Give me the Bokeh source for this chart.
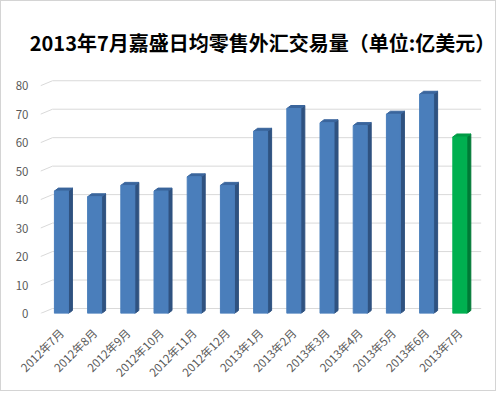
import numpy as np
from bokeh.plotting import figure
from bokeh.models import FixedTicker, Range1d
from bokeh.embed import file_html
from bokeh.resources import INLINE

title_text = "2013年7月嘉盛日均零售外汇交易量（单位:亿美元）"
months = ["2012年7月", "2012年8月", "2012年9月", "2012年10月", "2012年11月", "2012年12月",
          "2013年1月", "2013年2月", "2013年3月", "2013年4月", "2013年5月", "2013年6月", "2013年7月"]
volumes = [43, 41, 45, 43, 48, 45, 64, 72, 67, 66, 70, 77, 62]
y_ticks = [0, 10, 20, 30, 40, 50, 60, 70, 80]

FONT = "Noto Sans CJK SC"
ppu_x = 33.2        # px per category
ppu_y = 2.85        # px per unit
x0, x1 = -0.63, -0.63 + 444 / ppu_x

p = figure(width=496, height=391, output_backend="svg", toolbar_location=None,
           x_range=Range1d(x0, x1), y_range=Range1d(0, 85),
           min_border_left=39, min_border_right=13, min_border_top=70, min_border_bottom=79)
p.styles = {"border": "1px solid #d4d4d4"}
p.outline_line_color = None
p.background_fill_color = "white"
p.border_fill_color = "white"
p.xgrid.visible = False
p.ygrid.visible = False

p.title.text = title_text
p.title.text_font = FONT
p.title.text_font_style = "bold"
p.title.text_font_size = "20px"
p.title.text_color = "black"
p.title.align = "center"
p.title.offset = -11
p.title.standoff = 30

# 3D back-wall gridlines
gdx = 12 / ppu_x
gdy = 5 / ppu_y
gy = np.array(y_ticks, dtype=float)
p.segment(x0=[x0] * len(gy), y0=gy, x1=[x0 + gdx] * len(gy), y1=gy + gdy,
          line_color="#d9d9d9", line_width=1)
p.segment(x0=[x0 + gdx] * len(gy), y0=gy + gdy, x1=[x1 - 0.1] * len(gy), y1=gy + gdy,
          line_color="#d9d9d9", line_width=1)

# bars
xs = np.arange(len(volumes), dtype=float)
v = np.array(volumes, dtype=float)
hw = 7 / ppu_x
dx = 4 / ppu_x
dy = 3 / ppu_y
front_col = ["#4a7ebb"] * (len(v) - 1) + ["#00b050"]
side_col = ["#2f5280"] * (len(v) - 1) + ["#007a36"]
top_col = ["#3a659c"] * (len(v) - 1) + ["#009a45"]

side_xs = [[x + hw, x + hw + dx, x + hw + dx, x + hw] for x in xs]
side_ys = [[0, dy, h + dy, h] for h in v]
top_xs = [[x - hw, x - hw + dx, x + hw + dx, x + hw] for x in xs]
top_ys = [[h, h + dy, h + dy, h] for h in v]
p.patches(side_xs, side_ys, fill_color=side_col, line_color=side_col)
p.patches(top_xs, top_ys, fill_color=top_col, line_color=top_col)
p.vbar(x=xs, top=v, bottom=0, width=2 * hw, fill_color=front_col, line_color=front_col)

# axes
p.yaxis.ticker = FixedTicker(ticks=y_ticks)
p.yaxis.axis_line_color = None
p.yaxis.major_tick_line_color = None
p.yaxis.minor_tick_line_color = None
p.yaxis.major_label_text_font = FONT
p.yaxis.major_label_text_font_size = "11.5px"
p.yaxis.major_label_text_color = "#595959"
p.yaxis.major_label_standoff = 6

p.xaxis.ticker = FixedTicker(ticks=list(range(len(months))))
p.xaxis.major_label_overrides = {i: m for i, m in enumerate(months)}
p.xaxis.major_label_orientation = np.pi / 4
p.xaxis.axis_line_color = None
p.xaxis.major_tick_line_color = None
p.xaxis.minor_tick_line_color = None
p.xaxis.major_label_text_font = FONT
p.xaxis.major_label_text_font_size = "11.5px"
p.xaxis.major_label_text_color = "#595959"
p.xaxis.major_label_standoff = 11

open("out.html", "w").write(file_html(p, INLINE))
